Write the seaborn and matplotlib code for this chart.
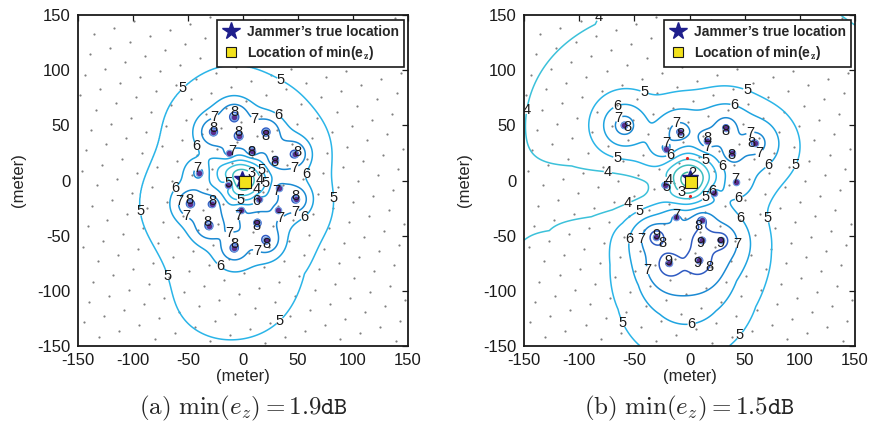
import numpy as np
import matplotlib
matplotlib.use("Agg")
import matplotlib.pyplot as plt
import seaborn as sns
from matplotlib.lines import Line2D

sns.set_theme(style="white")
plt.rcParams['font.family'] = ['Liberation Sans', 'DejaVu Sans']
plt.rcParams['mathtext.fontset'] = 'cm'

# ---------------- data ----------------
# panel (a): jammed sensors (x, y in meter) and the peak e_z level read at each
sens_a_x = [-8, -27, -4, 21, -13, 8, 29, 47, -40, -14, 33, -48, -28, 48, -2, 32, 13, -31, 21, -8, 15]
sens_a_y = [58, 44, 40, 44, 25, 27, 19, 24, 7, -4, -7, -21, -21, -17, -27, -27, -38, -41, -54, -61, -17]
sens_a_peak = [8.6, 8.5, 8.3, 8.5, 7.3, 8.2, 8.2, 8.5, 7.4, 5.5, 7.3, 8.5, 8.3, 8.5, 7.3, 7.3, 8.3, 8.5, 8.5, 8.6, 6.3]
jammer_a = [-1.0, 1.5]
min_a = [1.5, -1.0]
caption_a = r"$\mathrm{(a)}\ \min(e_z) = 1.9\mathtt{dB}$"

# panel (b)
sens_b_x = [-59, -9, 15.5, 33, 59, -21, 38.5, 42, 22, -22, -12, 11, -30, 11, 28.5, -19, 9]
sens_b_y = [50, 44, 36, 48, 34, 29, 25, -1, -11, -4, -33, -36, -51, -54, -54, -75, -72.5]
sens_b_peak = [8.5, 8.3, 8.2, 8.3, 8.4, 7.4, 8.2, 7.2, 6.4, 5.3, 7.3, 8.5, 9.3, 9.2, 9.2, 9.3, 9.3]
jammer_b = [0.0, 2.5]
min_b = [1.0, -1.0]
red_b_x = [-2, 0.5]
red_b_y = [20.5, -13.6]
caption_b = r"$\mathrm{(b)}\ \min(e_z) = 1.5\mathtt{dB}$"

levels_a = [3, 4, 5, 6, 7, 8]
levels_b = [2, 3, 4, 5, 6, 7, 8, 9]

# contour label anchors, grouped by level
labels_a = {
    3: [(8, 7)],
    4: [(21, 1), (17, -11)],
    5: [(-54, 83), (35, 92), (76, -16), (-94, -28), (-73, -88), (18, -111),
        (21, 13), (-14, -3), (14, -1), (-2, -20)],
    6: [(31, 58), (-36, 35), (-60, -8), (-23, -80), (50, 8), (54, -31), (12, -19)],
    7: [(-26, 58), (7, 42), (-13, 28), (-41, 10), (-56, -19), (-51, -31), (-1.5, -31),
        (32, -31), (33, -9), (45, 17), (47, -27), (-12, -51), (13, -63)],
    8: [(-8, 64), (-27, 46), (-4, 44), (20, 40), (7, 25), (29, 17), (51, 27), (-49, -17),
        (-28, -19), (48, -14), (-32, -37), (12, -41), (21, -58), (-8, -60)],
}
labels_b = {
    2: [(5, 11)],
    3: [(-9, -14)],
    4: [(-84, 149), (-147, 64), (-74, 8), (-55, -23), (-21, -1)],
    5: [(-41, 80), (53, 84), (-64, 27), (89, 17), (13, 16), (-18, -8), (22, -22),
        (-42, -34), (52, -37), (-68, -133), (50, -144)],
    6: [(-66, 68), (40, 66), (-18, 24), (68, 18), (22, 8), (42, -9), (22, -11),
        (37, -41), (-50, -54), (0.5, -120)],
    7: [(-63, 55), (-11, 49), (-21, 33), (16, 27), (55, 44), (64, 24), (41, 4),
        (-12, -29), (-41, -53), (40, -57), (-37, -81)],
    8: [(-57, 49), (-7, 41), (16, 41), (33, 43), (58, 34), (37, 21), (9.5, -41),
        (-23, -58), (20, -79)],
    9: [(-30, -47), (10, -57), (28, -56), (-19, -69), (6, -75)],
}

# ---------------- field model ----------------
# hills: (amplitude, x0, y0, sigma_x, sigma_y)
model_a = dict(kd=[-40, 0, 8, 16, 30, 44, 90, 250],
               kf=[7.3, 7.2, 6.9, 6.0, 5.5, 5.0, 4.6, 4.2],
               alpha=10.0, tau=8.0, jam=jammer_a, jdepth=4.1, jsig=16.0,
               hills=[(-0.55, 100, 10, 28, 60), (0.4, -15, -125, 45, 30)])
model_b = dict(kd=[-40, 0, 6, 18, 32, 45, 60, 95, 250],
               kf=[7.3, 7.0, 6.7, 6.0, 5.0, 4.55, 4.25, 3.95, 3.75],
               alpha=10.0, tau=8.0, jam=jammer_b, jdepth=3.6, jsig=16.0,
               hills=[(1.45, 0, -110, 42, 45), (0.35, -60, -150, 90, 70),
                      (0.5, 150, -30, 60, 90), (0.25, 20, 160, 60, 50),
                      (-1.2, -60, -10, 50, 16)])


def background(X, Y, sx, sy, pk, m):
    shp = (-1,) + (1,) * np.ndim(X)
    sxa = np.asarray(sx, float).reshape(shp)
    sya = np.asarray(sy, float).reshape(shp)
    pka = np.asarray(pk, float).reshape(shp)
    d = np.hypot(X - sxa, Y - sya)
    R = m['alpha'] * np.minimum(pka - 8.0, 0.0)
    z = -(d - R) / m['tau']
    zmax = z.max(axis=0)
    D = -m['tau'] * (zmax + np.log(np.exp(z - zmax).sum(axis=0)))
    bg = np.interp(D, m['kd'], m['kf'])
    jx, jy = m['jam']
    bg = bg - m['jdepth'] * np.exp(-((X - jx) ** 2 + (Y - jy) ** 2) / (2 * m['jsig'] ** 2))
    for amp, hx, hy, wx, wy in m['hills']:
        bg = bg + amp * np.exp(-((X - hx) ** 2 / (2 * wx ** 2) + (Y - hy) ** 2 / (2 * wy ** 2)))
    return bg


def field(X, Y, sx, sy, pk, m):
    bg = background(X, Y, sx, sy, pk, m)
    bs = background(np.asarray(sx, float), np.asarray(sy, float), sx, sy, pk, m)
    amp = np.clip(np.asarray(pk, float) - bs, 0, None)
    f = bg.copy()
    for x0, y0, a in zip(sx, sy, amp):
        r2 = (X - x0) ** 2 + (Y - y0) ** 2
        f += a * (0.45 * np.exp(-r2 / (2 * 8.0 ** 2)) + 0.55 * np.exp(-r2 / (2 * 2.8 ** 2)))
    return f


g = np.linspace(-150, 150, 601)
GX, GY = np.meshgrid(g, g)

# background node lattice (grey dots)
ii, jj = np.meshgrid(np.arange(-14, 15), np.arange(-14, 15))
lat_u = 19.0 * (ii + 0.5 * (jj % 2))
lat_v = 16.5 * jj
th = np.deg2rad(17)
nodes_x = (lat_u * np.cos(th) - lat_v * np.sin(th) + 4).ravel()
nodes_y = (lat_u * np.sin(th) + lat_v * np.cos(th) + 3).ravel()
keep = (np.abs(nodes_x) < 148) & (np.abs(nodes_y) < 148)
nodes_x, nodes_y = nodes_x[keep], nodes_y[keep]

level_colors = {2: '#3CB9A0', 3: '#3DBDBE', 4: '#3CC1DA', 5: '#2BB5E8',
                6: '#1FA4E0', 7: '#1B8AD3', 8: '#2F5BC2', 9: '#3B2E9A'}

fig = plt.figure(figsize=(8.7, 4.28), dpi=100)
ax_a = fig.add_axes([78 / 870, 1 - 346 / 428, 330 / 870, 331 / 428])
ax_b = fig.add_axes([524 / 870, 1 - 346 / 428, 331 / 870, 331 / 428])

panels = [
    (ax_a, sens_a_x, sens_a_y, sens_a_peak, model_a, levels_a, labels_a, jammer_a, min_a, caption_a, None),
    (ax_b, sens_b_x, sens_b_y, sens_b_peak, model_b, levels_b, labels_b, jammer_b, min_b, caption_b,
     (red_b_x, red_b_y)),
]

for ax, sx, sy, pk, m, levs, labs, jam, mn, cap, reds in panels:
    ax.set_facecolor('white')
    ax.set_xlim(-150, 150)
    ax.set_ylim(-150, 150)
    sns.scatterplot(x=nodes_x, y=nodes_y, ax=ax, s=2.5, color='#808080', linewidth=0, zorder=1)
    Z = field(GX, GY, sx, sy, pk, m)
    for lev in levs:
        cs = ax.contour(GX, GY, Z, levels=[lev], colors=[level_colors[lev]],
                        linewidths=1.1, zorder=2)
        pts = labs.get(lev, [])
        if pts and len(cs.allsegs[0]) > 0:
            txts = ax.clabel(cs, manual=pts, inline=(lev < 8), inline_spacing=0,
                             fontsize=10.5, fmt='%d', colors='k')
            for t in txts:
                t.set_rotation(0)
                t.set_zorder(7)
    sns.scatterplot(x=sx, y=sy, ax=ax, s=22, color='#5A2D8E', edgecolor='#6F9FE2',
                    linewidth=0.8, zorder=3)
    if reds is not None:
        sns.scatterplot(x=reds[0], y=reds[1], ax=ax, s=5, color='#E82020', linewidth=0, zorder=3)
    ax.plot(jam[0], jam[1], marker='*', markersize=12, color='#1E1E8C', linestyle='none', zorder=5)
    ax.plot(mn[0], mn[1], marker='s', markersize=8, markerfacecolor='#F2E11C',
            markeredgecolor='k', markeredgewidth=0.8, linestyle='none', zorder=6)
    ax.set_xlim(-150, 150)
    ax.set_ylim(-150, 150)
    ticks = [-150, -100, -50, 0, 50, 100, 150]
    ax.set_xticks(ticks)
    ax.set_yticks(ticks)
    ax.set_xticklabels([str(t) for t in ticks])
    ax.set_yticklabels([str(t) for t in ticks])
    ax.tick_params(direction='in', top=True, right=True, length=4, width=0.9,
                   labelsize=12, colors='k')
    ax.tick_params(axis='x', pad=5)
    ax.tick_params(axis='y', pad=5.5)
    for sp in ax.spines.values():
        sp.set_visible(True)
        sp.set_color('k')
        sp.set_linewidth(1.3)
    ax.set_xlabel('(meter)', fontsize=12, labelpad=1)
    ax.set_ylabel('(meter)', fontsize=12, labelpad=8)
    handles = [
        Line2D([], [], marker='*', markersize=13, color='#1E1E8C', linestyle='none'),
        Line2D([], [], marker='s', markersize=7, markerfacecolor='#F2E11C',
               markeredgecolor='k', markeredgewidth=0.8, linestyle='none'),
    ]
    leg = ax.legend(handles, ["Jammer\u2019s true location", r"Location of min(e$_\mathbf{z}$)"],
                    loc='upper right', bbox_to_anchor=(0.988, 0.985), borderaxespad=0,
                    fancybox=False, framealpha=1, edgecolor='k', handlelength=1.2,
                    handletextpad=0.6, borderpad=0.35, labelspacing=0.35,
                    prop={'weight': 'bold', 'size': 10})
    leg.get_frame().set_linewidth(1.2)
    leg.set_zorder(10)
    pos = ax.get_position()
    fig.text(pos.x0 + pos.width / 2, 1 - 408 / 428, cap, ha='center', va='center', fontsize=18)

fig.savefig('out.png', dpi=100)
